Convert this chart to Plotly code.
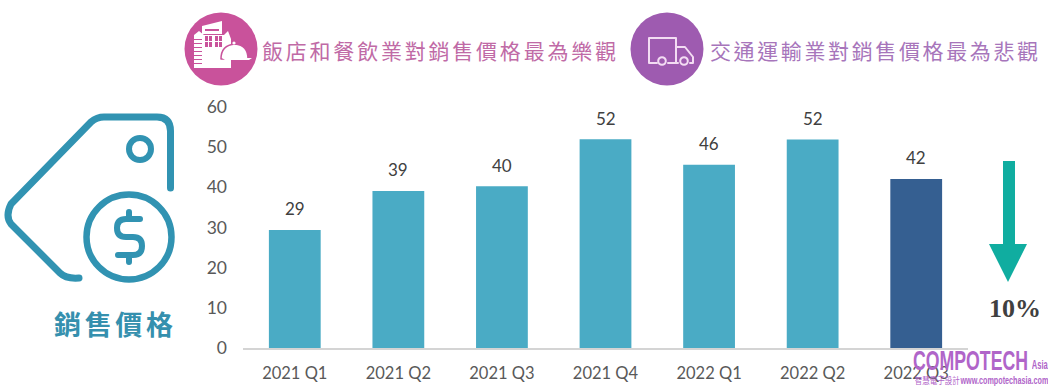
import json
import plotly.graph_objects as go

categories = ["2021 Q1", "2021 Q2", "2021 Q3", "2021 Q4", "2022 Q1", "2022 Q2", "2022 Q3"]
values = [29.4, 39.1, 40.3, 52.0, 45.6, 51.9, 42.1]
value_labels = ["29", "39", "40", "52", "46", "52", "42"]
bar_colors = ["#4aabc5"] * 6 + ["#355f91"]
y_ticks = [0, 10, 20, 30, 40, 50, 60]

W, H = 1054, 391
fig = go.Figure()
fig.add_trace(go.Bar(x=categories, y=values, marker=dict(color=bar_colors, line=dict(width=0)),
                     hoverinfo="skip", showlegend=False))

fig.update_layout(
    width=W, height=H, margin=dict(l=0, r=0, t=0, b=0, autoexpand=False),
    paper_bgcolor="white", plot_bgcolor="rgba(0,0,0,0)", bargap=0.5, showlegend=False,
    font=dict(family="Lato", color="#595959", size=17),
    xaxis=dict(domain=[243 / W, 968 / W], showgrid=False, zeroline=False, showline=True,
               linecolor="#d4d4d4", linewidth=2, ticks="", ticklabelstandoff=9, automargin=False,
               tickfont=dict(size=16.5, color="#595959")),
    yaxis=dict(domain=[1 - 348 / H, 1 - 107 / H], range=[0, 60], tickvals=y_ticks, showgrid=False,
               zeroline=False, showline=False, ticks="", ticklabelstandoff=15, automargin=False,
               tickfont=dict(size=17.5, color="#595959")),
    # pixel overlay for decorative drawings
    xaxis2=dict(domain=[0, 1], range=[0, W], visible=False, anchor="y2"),
    yaxis2=dict(domain=[0, 1], range=[H, 0], visible=False, anchor="x2"),
)
fig.add_trace(go.Scatter(x=[0, W], y=[0, H], xaxis="x2", yaxis="y2", mode="none",
                         hoverinfo="skip", showlegend=False))

annotations = []
for c, v, t in zip(categories, values, value_labels):
    annotations.append(dict(x=c, y=v, xref="x", yref="y", text=t, showarrow=False, yshift=21,
                            font=dict(size=17, color="#404040", family="Lato")))

stretch = {}
def px_text(x, y, text, size, color, family="Noto Sans CJK TC", length=None, adjust="spacing"):
    a = dict(x=x, y=y, xref="x2", yref="y2", text=text, showarrow=False, xanchor="center",
             yanchor="middle", font=dict(size=size, color=color, family=family))
    if length:
        a["width"] = length
        stretch[text.replace("<b>", "").replace("</b>", "")] = [length, adjust]
    annotations.append(a)

px_text(439, 50, "飯店和餐飲業對銷售價格最為樂觀", 21, "#c06aa6", length=354)
px_text(874, 50, "交通運輸業對銷售價格最為悲觀", 21, "#a775bb", length=328)
px_text(113.5, 323, "<b>銷售價格</b>", 27, "#3590ae", length=119)
px_text(1015, 308, "<b>10%</b>", 26, "#404040", family="Liberation Serif")
WM = "#b065c9"
px_text(970.5, 360, "<b>COMPOTECH</b>", 28, WM, family="Liberation Sans", length=115, adjust="spacingAndGlyphs")
px_text(1040, 365, "<b>Asia</b>", 12, WM, family="Liberation Sans", length=16, adjust="spacingAndGlyphs")
px_text(937, 380, "智慧電子設計", 9.5, WM, length=45, adjust="spacingAndGlyphs")
px_text(1004, 380, "<b>www.compotechasia.com</b>", 10, WM, family="Liberation Sans", length=88, adjust="spacingAndGlyphs")
fig.update_layout(annotations=annotations)

shapes = []
def path(d, line=None, width=0, fill=None):
    s = dict(type="path", path=d, xref="x2", yref="y2", layer="above",
             line=dict(color=line or "rgba(0,0,0,0)", width=width))
    s["fillcolor"] = fill or "rgba(0,0,0,0)"
    shapes.append(s)
def circle(cx, cy, r, line=None, width=0, fill=None):
    s = dict(type="circle", x0=cx - r, x1=cx + r, y0=cy - r, y1=cy + r, xref="x2", yref="y2", layer="above",
             line=dict(color=line or "rgba(0,0,0,0)", width=width))
    s["fillcolor"] = fill or "rgba(0,0,0,0)"
    shapes.append(s)
def rect(x0, y0, x1, y1, fill):
    shapes.append(dict(type="rect", x0=x0, x1=x1, y0=y0, y1=y1, xref="x2", yref="y2", layer="above",
                       line=dict(width=0), fillcolor=fill))

TEAL = "#3193b2"
# price tag
path("M 170.5 188 L 170.5 131 Q 170.5 117 157 117 L 104 117 Q 97 117 91 122 L 11 204 "
     "Q 5 216 11 224 L 60 273 Q 66 279 79 278", line=TEAL, width=7)
circle(140, 149, 11, line=TEAL, width=6)
circle(129, 237, 42.5, line=TEAL, width=6.5)
path("M 140 219 L 126 219 Q 117 219 117 228 Q 117 237 126 237 L 133 237 Q 142 237 142 246 "
     "Q 142 255 133 255 L 118 255", line=TEAL, width=6)
path("M 129 212 L 129 219 M 129 255 L 129 262", line=TEAL, width=6)

# hotel badge
PINK = "#c9529b"
circle(221, 49, 36.5, fill=PINK)
path("M 202 34 L 202 26 L 222 21 L 222 34 Z", fill="white")
rect(205, 29, 219, 31, PINK)
path("M 194 68 L 194 35 L 199 31 L 204 35 L 224 35 L 228 31 L 231 39 L 231 68 Z", fill="white")
for y in (39, 43, 47, 51, 55, 59, 63):
    rect(194, y, 202, y + 1, PINK)
for x in (205, 215):
    rect(x, 36, x + 7, 47, PINK)
    rect(x + 3, 36, x + 4, 47, "white")
    rect(x, 41, x + 7, 42, "white")
path("M 221 59 Q 221 45 235 44 Q 248 45 248 59 Z", line=PINK, width=1.5, fill="white")
path("M 222 58 L 252 58 L 249 60 L 225 60 Z", fill="white")
circle(234, 43, 1.6, fill="white")

# truck badge
PURPLE = "#9e5bb0"
LIGHT = "#f3dcf3"
circle(667, 49, 36.5, fill=PURPLE)
path("M 657 63 L 649 63 L 649 38 L 676 38 L 676 63 L 668 63 M 676 47 L 685 47 L 693 57 L 693 63 L 690 63 M 678 63 L 676 63",
     line=LIGHT, width=2)
circle(662, 61, 3.8, line=LIGHT, width=2)
circle(684, 61, 3.8, line=LIGHT, width=2)

# down arrow
path("M 1003 161 L 1015 161 L 1015 244 L 1027 244 L 1008 282 L 989 244 L 1003 244 Z", fill="#10ada0")

fig.update_layout(shapes=shapes)

post = """
var st=document.createElement('style');
st.textContent='html,body{margin:0!important;padding:0;overflow:hidden} .shapelayer path{stroke-linecap:round;stroke-linejoin:round}';
document.head.appendChild(st);
var stretch=%s;
document.querySelectorAll('.annotation-text').forEach(function(t){
  var v=stretch[t.textContent];
  if(v){t.setAttribute('textLength',v[0]);t.setAttribute('lengthAdjust',v[1]);}
});
""" % json.dumps(stretch, ensure_ascii=False)
fig.write_html("out.html", post_script=post, config={"displayModeBar": False})
